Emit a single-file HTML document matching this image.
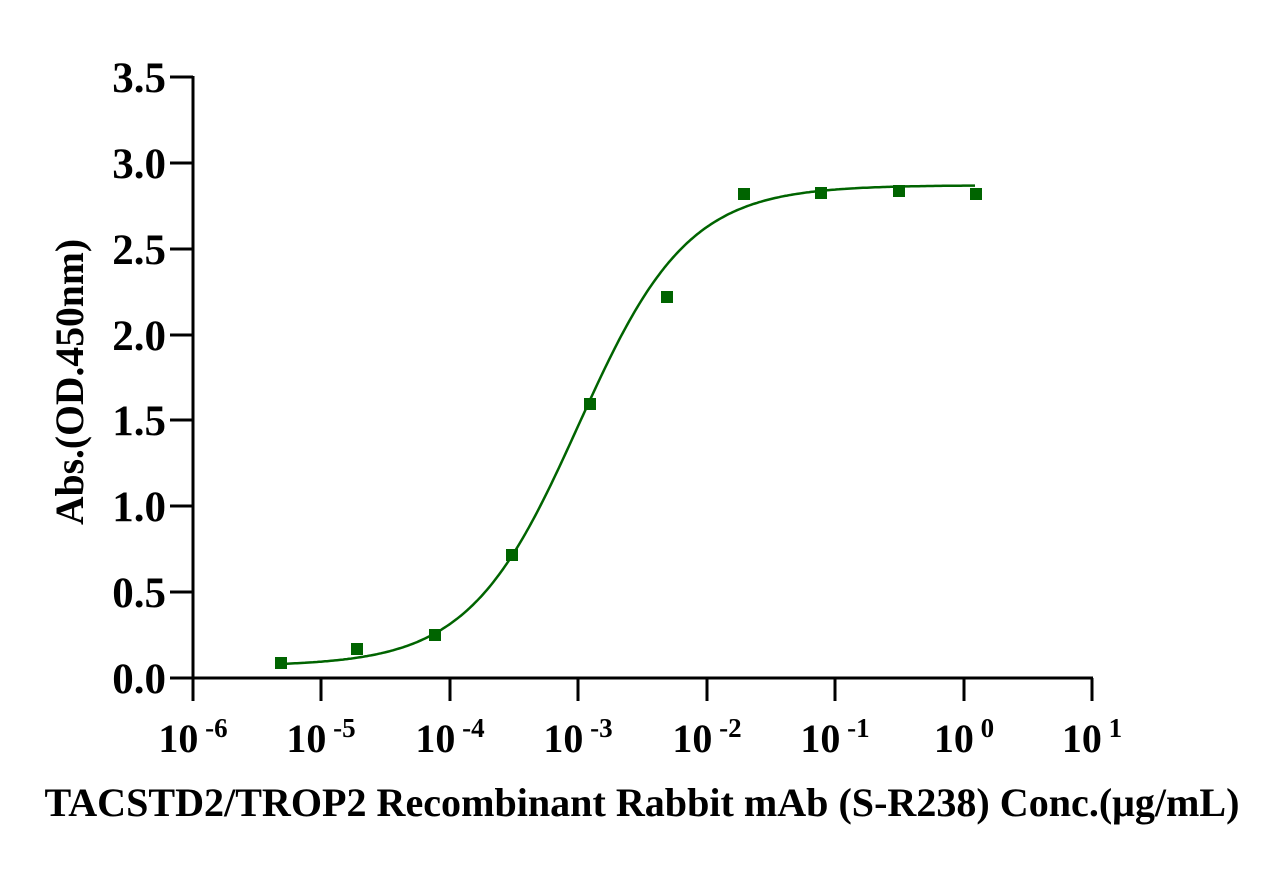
<!DOCTYPE html>
<html><head><meta charset="utf-8"><style>
html,body{margin:0;padding:0;background:#fff;}
text{font-family:"Liberation Serif",serif;font-weight:bold;fill:#000;}
</style></head><body>
<svg id="s" width="1286" height="867" xmlns="http://www.w3.org/2000/svg">
<g stroke="#000" stroke-width="3" fill="none">
<line x1="193" y1="76" x2="193" y2="701"/>
<line x1="170" y1="678" x2="1093" y2="678"/>
<line x1="170" y1="77" x2="193" y2="77"/>
<line x1="170" y1="163" x2="193" y2="163"/>
<line x1="170" y1="249" x2="193" y2="249"/>
<line x1="170" y1="335" x2="193" y2="335"/>
<line x1="170" y1="420" x2="193" y2="420"/>
<line x1="170" y1="506" x2="193" y2="506"/>
<line x1="170" y1="592" x2="193" y2="592"/>
<line x1="321" y1="678" x2="321" y2="701"/>
<line x1="450" y1="678" x2="450" y2="701"/>
<line x1="578" y1="678" x2="578" y2="701"/>
<line x1="707" y1="678" x2="707" y2="701"/>
<line x1="835" y1="678" x2="835" y2="701"/>
<line x1="964" y1="678" x2="964" y2="701"/>
<line x1="1092" y1="678" x2="1092" y2="701"/>
</g>
<g font-size="43" text-anchor="end">
<text x="166" y="92">3.5</text><text x="166" y="178">3.0</text><text x="166" y="264">2.5</text>
<text x="166" y="350">2.0</text><text x="166" y="435">1.5</text><text x="166" y="521">1.0</text>
<text x="166" y="607">0.5</text><text x="166" y="693">0.0</text>
</g>
<g font-size="40" text-anchor="middle">
<text x="193" y="752">10<tspan font-size="27" dy="-15"> -6</tspan></text>
<text x="321" y="752">10<tspan font-size="27" dy="-15"> -5</tspan></text>
<text x="450" y="752">10<tspan font-size="27" dy="-15"> -4</tspan></text>
<text x="578" y="752">10<tspan font-size="27" dy="-15"> -3</tspan></text>
<text x="707" y="752">10<tspan font-size="27" dy="-15"> -2</tspan></text>
<text x="835" y="752">10<tspan font-size="27" dy="-15"> -1</tspan></text>
<text x="964" y="752">10<tspan font-size="27" dy="-15"> 0</tspan></text>
<text x="1092" y="752">10<tspan font-size="27" dy="-15"> 1</tspan></text>
</g>
<text x="642" y="816" font-size="40" text-anchor="middle" textLength="1195" lengthAdjust="spacingAndGlyphs">TACSTD2/TROP2 Recombinant Rabbit mAb (S-R238) Conc.(μg/mL)</text>
<text transform="translate(83,382) rotate(-90)" font-size="40" text-anchor="middle" textLength="286" lengthAdjust="spacingAndGlyphs">Abs.(OD.450nm)</text>
<path id="c" fill="none" stroke="#006400" stroke-width="2.5"/>
<g fill="#006400">
<rect x="275" y="657" width="12" height="12"/><rect x="351" y="643" width="12" height="12"/>
<rect x="429" y="629" width="12" height="12"/><rect x="506" y="549" width="12" height="12"/>
<rect x="584" y="398" width="12" height="12"/><rect x="661" y="291" width="12" height="12"/>
<rect x="738" y="188" width="12" height="12"/><rect x="815" y="187" width="12" height="12"/>
<rect x="893" y="185" width="12" height="12"/><rect x="970" y="188" width="12" height="12"/>
</g>
</svg>
<script>
var d="";for(var px=281;px<=976;px+=2){var lx=-6+(px-193)/128.43;var v=0.07+2.8/(1+Math.pow(10,1.02*(-3.0-lx)));var py=678-v*171.7;d+=(d?"L":"M")+px+","+py.toFixed(1);}
document.getElementById("c").setAttribute("d",d);
</script>
</body></html>
